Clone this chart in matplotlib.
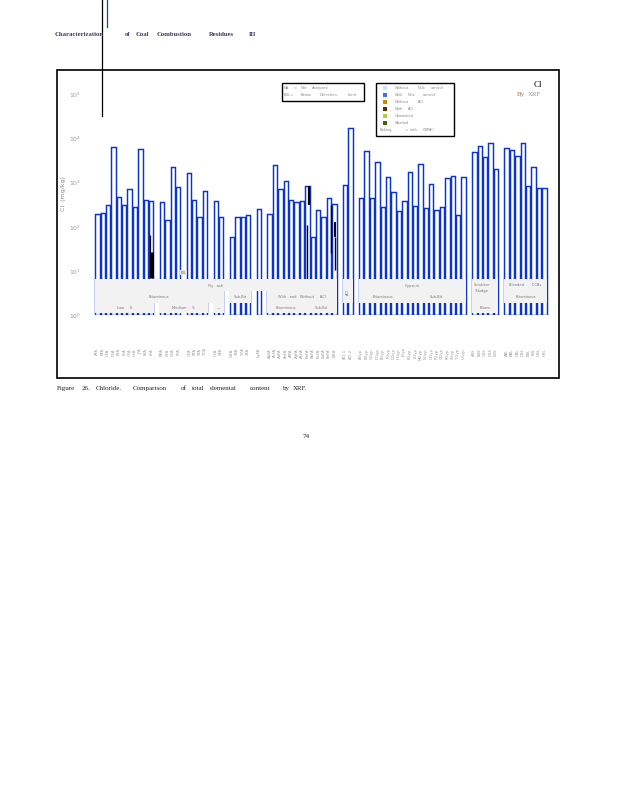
import matplotlib
matplotlib.use('Agg')
import matplotlib.pyplot as plt
import numpy as np
from matplotlib.patches import Rectangle
from matplotlib.lines import Line2D
from matplotlib.ticker import NullLocator

# ---------------- data ----------------
cl_values = [192, 202, 307, 6350, 467, 307, 708, 277, 5720, 399, 385,
             359, 143, 2234, 787,
             1660, 399, 169, 638,
             379, 164,
             58, 164, 164, 182,
             249,
             192, 2480, 708, 1076, 399, 359, 385,
             842, 58, 240, 164, 443, 324,
             887, 17140,
             443, 5150, 443, 2900, 286, 1325, 615, 228, 385,
             1720, 296, 2655, 263, 920, 237, 277, 1258, 1397, 182, 1325,
             4890, 6690, 3770, 7820, 2014,
             6030, 5430, 3970, 7820, 829, 2234, 746, 746]

sample_labels = ["AFA", "BFA", "CFA", "DFA", "EFA", "FFA", "GFA", "HFA", "JFA", "KFA", "LFA",
                 "MFA", "NFA", "OFA", "PFA",
                 "QFA", "RFA", "SFA", "TFA",
                 "UFA", "VFA",
                 "WFA", "XFA", "YFA", "ZFA",
                 "LgFA",
                 "AbFA", "AcFA", "AdFA", "AeFA", "AfFA", "AgFA", "AhFA",
                 "BaFA", "BbFA", "BcFA", "BdFA", "BeFA", "BfFA",
                 "ACI-1", "ACI-2",
                 "AGyp", "BGyp", "CGyp", "DGyp", "EGyp", "FGyp", "GGyp", "HGyp", "JGyp",
                 "KGyp", "LGyp", "MGyp", "NGyp", "OGyp", "PGyp", "QGyp", "RGyp", "SGyp", "TGyp", "UGyp",
                 "ASS", "BSS", "CSS", "DSS", "ESS",
                 "ABL", "BBL", "CBL", "DBL", "EBL", "FBL", "GBL", "HBL"]

# black overlay segments (bar index, low, high)
seg_bar = [10, 10, 33, 33, 37, 38, 38]
seg_low = [6.9, 6.9, 313, 6.6, 25.5, 59, 10.5]
seg_high = [65, 27, 842, 110, 313, 130, 59]
seg_off = [-0.15, 0.12, 0.28, 0.0, 0.3, 0.12, 0.18]
seg_lw = [0.9, 2.2, 1.6, 1.0, 1.0, 1.4, 1.0]

# hierarchical category boxes: (first bar, last bar, label)
level1 = [(0, 38, "Fly   ash"), (39, 40, "ACI"), (41, 60, "Gypsum"),
          (61, 65, "Scrubber\n  Sludge"), (66, 73, "Blended       CCBs")]
level2 = [(0, 20, "Bituminous"), (21, 24, "Sub-Bit"), (26, 38, "With   and   Without     ACI"),
          (39, 40, ""), (41, 49, "Bituminous"), (50, 60, "Sub-Bit"),
          (61, 65, ""), (66, 73, "Bituminous")]
level3 = [(0, 10, "Low     S"), (11, 18, "Medium     S"), (19, 20, "—"),
          (26, 32, "Bituminous"), (33, 38, "Sub-Bit"), (61, 65, "Bitum.")]

gap_after = [10, 14, 18, 20, 24, 25, 38, 40, 60, 65]
bdl_after = [14]

legend_entries = [("#c5e8fa", ["Without", "NOx", "control"]),
                  ("#4a6cf0", ["With", "NOx", "control"]),
                  ("#cc8800", ["Without", "ACI"]),
                  ("#5c2e0c", ["With", "ACI"]),
                  ("#a6d82a", ["Unwashed"]),
                  ("#3d6614", ["Washed"])]

# ---------------- layout helpers ----------------
W, H = 618, 800
def fx(x): return x / W
def fy(y): return 1 - y / H

n = len(cl_values)
shift = np.zeros(n)
for g in gap_after:
    shift[g + 1:] += 1
pos = np.arange(n) + shift

fig = plt.figure(figsize=(6.18, 8), dpi=100)
fig.patch.set_facecolor('white')

ax_top, ax_bot = 72.5, 315.0
ax = fig.add_axes([fx(92), fy(ax_bot), 458 / W, (ax_bot - ax_top) / H])
ax.set_yscale('log')
ax.set_ylim(1, 10 ** 5.5)
ax.set_xlim(-0.99, 84.04)
for s in ax.spines.values():
    s.set_visible(False)

vals = np.array(cl_values, dtype=float)
ax.bar(pos, vals - 1, bottom=1, width=0.82, facecolor='white',
       edgecolor='#0a33d0', linewidth=1.05, zorder=2)

for b, lo, hi, off, lw in zip(seg_bar, seg_low, seg_high, seg_off, seg_lw):
    ax.vlines(pos[b] + off, lo, hi, colors='black', linewidth=lw, zorder=2.5)

# BDL mini labels
for b in bdl_after:
    ax.text(pos[b] + 1, 9.2, "BDL", fontsize=2.2, color='#777', ha='center', va='center',
            bbox=dict(boxstyle='square,pad=0.15', fc='#e6e6e6', ec='none'), zorder=4)

trans = ax.get_xaxis_transform()
def frac(px): return (ax_bot - px) / (ax_bot - ax_top)
bands = {1: (279, 291), 2: (291, 303), 3: (303, 313)}
hw = 0.47

def draw_level(items, lev, label_y):
    y0p, y1p = bands[lev]
    for a, b, name in items:
        x0 = pos[a] - hw
        x1 = pos[b] + hw
        ax.add_patch(Rectangle((x0, frac(y1p)), x1 - x0, frac(y0p) - frac(y1p),
                               transform=trans, facecolor='#f2f2f2', edgecolor='none', zorder=3))
        if name:
            ax.text((x0 + x1) / 2, frac(label_y), name, transform=trans, fontsize=2.6,
                    color='#777', ha='center', va='center', zorder=4, linespacing=1.3)

draw_level([l for l in level1 if l[2] not in ("ACI",) and not l[2].startswith("Scrubber")], 1, 285.5)
for a, b, name in level1:
    if name == "ACI":
        x0, x1 = pos[a] - hw, pos[b] + hw
        ax.add_patch(Rectangle((x0, frac(291)), x1 - x0, frac(279) - frac(291),
                               transform=trans, facecolor='#f2f2f2', edgecolor='none', zorder=3))
        ax.text((x0 + x1) / 2, frac(292), name, transform=trans, fontsize=2.6, rotation=90,
                color='#777', ha='center', va='center', zorder=4)
    if name.startswith("Scrubber"):
        x0, x1 = pos[a] - hw, pos[b] + hw
        ax.add_patch(Rectangle((x0, frac(291)), x1 - x0, frac(279) - frac(291),
                               transform=trans, facecolor='#f2f2f2', edgecolor='none', zorder=3))
        ax.text(x0 + 0.3, frac(288), name, transform=trans, fontsize=2.6,
                color='#777', ha='left', va='center', zorder=4, linespacing=1.4)
draw_level(level2, 2, 296.5)
draw_level(level3, 3, 308)

ax.set_yticks([10 ** k for k in range(6)])
ax.set_yticklabels([r"$10^{%d}$" % k for k in range(6)])
ax.yaxis.set_minor_locator(NullLocator())
ax.tick_params(axis='y', length=0, pad=8, labelsize=4.3, labelcolor='#999')
ax.set_ylabel("Cl  (mg/kg)", fontsize=4.5, color='#888', labelpad=2)

ax.set_xticks(pos)
ax.set_xticklabels(sample_labels, rotation=90, fontsize=2.8, color='#999')
ax.tick_params(axis='x', length=0, pad=24)

# ---------------- figure decorations ----------------
fig.add_artist(Rectangle((fx(57), fy(378)), 502 / W, 308 / H, transform=fig.transFigure,
                         fill=False, lw=1.2, ec='black'))
fig.add_artist(Line2D([fx(102.3)] * 2, [fy(0), fy(116)], color='black', lw=0.9,
                      transform=fig.transFigure))
fig.add_artist(Line2D([fx(106.7)] * 2, [fy(0), fy(27)], color='#1a3acc', lw=0.9,
                      transform=fig.transFigure))

def words(items, y, size, color, family='Liberation Serif', weight='normal'):
    for x, w in items:
        fig.text(fx(x), fy(y), w, fontsize=size, color=color, family=family,
                 weight=weight, ha='left', va='center')

words([(55, "Characterization"), (125, "of"), (136, "Coal"), (157, "Combustion"),
       (209, "Residues"), (249, "III")], 34.3, 4.8, '#3a3a5e', weight='bold')
words([(57, "Figure"), (82, "26."), (96, "Chloride."), (133, "Comparison"), (181, "of"),
       (192, "total"), (210, "elemental"), (250, "content"), (283, "by"), (293, "XRF.")],
      388.5, 5.0, '#222222')
fig.text(fx(306), fy(437), "74", fontsize=5, color='#222222', family='Liberation Serif',
         ha='center', va='center')

# legend 1
fig.add_artist(Rectangle((fx(282), fy(100.5)), 82 / W, 17.5 / H, transform=fig.transFigure,
                         facecolor='white', lw=1.0, ec='black'))
words([(284, "NA"), (294, "="), (300.5, "Not"), (311.5, "Analyzed")], 88, 2.6, '#888', 'DejaVu Sans')
words([(284, "BDL="), (300.5, "Below"), (320, "Detection"), (348, "Limit")], 95, 2.6, '#888', 'DejaVu Sans')

# legend 2
fig.add_artist(Rectangle((fx(376), fy(135.5)), 77.5 / W, 52.5 / H, transform=fig.transFigure,
                         facecolor='white', lw=1.0, ec='black'))
xs_with = [395, 407.5, 422.5]
for i, (col, ws) in enumerate(legend_entries):
    y = 88 + 7 * i
    fig.add_artist(Rectangle((fx(383.3), fy(y + 2)), 3.6 / W, 4 / H, transform=fig.transFigure,
                             facecolor=col, ec='none'))
    xs = xs_with if ws[0] == "With" else [395, 417.5, 431]
    words(list(zip(xs, ws)), y, 2.6, '#888', 'DejaVu Sans')
words([(380, "Baking"), (404.5, "="), (410, "with"), (422.5, "CBPAC")], 130, 2.6, '#888', 'DejaVu Sans')

fig.text(fx(534), fy(85), "Cl", fontsize=6.5, color='black', family='Liberation Serif',
         ha='left', va='center')
fig.text(fx(517), fy(94.5), "By", fontsize=5, color='#b07a50', family='Liberation Serif',
         ha='left', va='center')
fig.text(fx(528), fy(94.5), "XRF", fontsize=5, color='#a89090', family='Liberation Serif',
         ha='left', va='center')

fig.savefig('out.png', dpi=100)
